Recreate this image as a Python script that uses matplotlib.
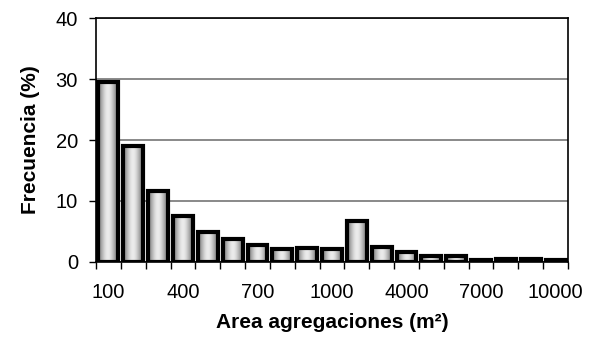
import numpy as np
import matplotlib
matplotlib.use("Agg")
import matplotlib.pyplot as plt

plt.rcParams['font.family'] = ['Liberation Sans', 'DejaVu Sans']

areas = ["100", "200", "300", "400", "500", "600", "700", "800", "900", "1000",
         "2000", "3000", "4000", "5000", "6000", "7000", "8000", "9000", "10000"]
frecuencia = [29.5, 19.1, 11.7, 7.5, 4.9, 3.7, 2.8, 2.2, 2.3, 2.2,
              6.7, 2.5, 1.6, 1.0, 0.9, 0.3, 0.5, 0.5, 0.3]

fig = plt.figure(figsize=(5.9, 3.47), dpi=100)
ax = fig.add_axes([0.1627, 0.245, 0.8, 0.703])

x = np.arange(len(areas))
bars = ax.bar(x, frecuencia, width=0.8, color='#d0d0d0', edgecolor='black',
              linewidth=3, zorder=3)

# cylinder-like gray shading inside each bar
t = np.linspace(-1, 1, 64)
shade = 0.5 + 0.42 * np.cos(t * np.pi / 2) ** 1.5
grad = shade[np.newaxis, :]
for b in bars:
    x0, y0 = b.get_x(), b.get_y()
    im = ax.imshow(grad, extent=[x0, x0 + b.get_width(), y0, y0 + b.get_height()],
                   cmap='gray', vmin=0, vmax=1, aspect='auto', zorder=3.5,
                   interpolation='bilinear')
    im.set_clip_path(b)
    b.set_facecolor('none')
    b.set_zorder(4)

ax.set_xlim(-0.5, len(areas) - 0.5)
ax.set_ylim(0, 40)
ax.set_aspect('auto')
ax.set_yticks([0, 10, 20, 30, 40])
ax.yaxis.grid(True, color='#808080', linewidth=1.3, zorder=0)

ax.set_xticks(x[::3])
ax.set_xticklabels(areas[::3], fontsize=14.5)
ax.set_xticks(np.arange(-0.5, len(areas)), minor=True)
ax.tick_params(axis='x', which='major', length=0, pad=15)
ax.tick_params(axis='x', which='minor', length=5, width=1)
ax.tick_params(axis='y', labelsize=14.5, length=5, width=1, pad=8)

for s in ax.spines.values():
    s.set_linewidth(1.2)
    s.set_zorder(5)

ax.set_ylabel('Frecuencia (%)', fontsize=15, fontweight='bold', labelpad=11)
ax.set_xlabel('Area agregaciones (m²)', fontsize=15, fontweight='bold', labelpad=8)

fig.savefig('out.png', dpi=100)
